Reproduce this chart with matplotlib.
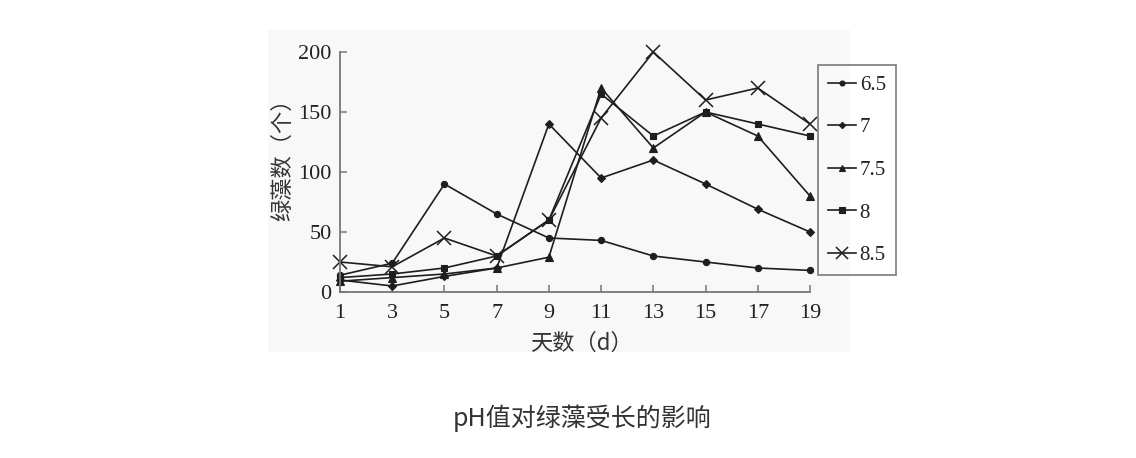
import matplotlib.pyplot as plt
from matplotlib.patches import Rectangle

plt.rcParams['font.family'] = ['Liberation Serif', 'Noto Sans CJK SC']

days = [1, 3, 5, 7, 9, 11, 13, 15, 17, 19]
ph_labels = ["6.5", "7", "7.5", "8", "8.5"]
ph_65 = [14, 24, 90, 65, 45, 43, 30, 25, 20, 18]
ph_7 = [10, 5, 13, 20, 140, 95, 110, 90, 69, 50]
ph_75 = [9, 12, 15, 20, 29, 170, 120, 150, 130, 80]
ph_8 = [12, 15, 20, 30, 60, 165, 130, 150, 140, 130]
ph_85 = [25, 21, 45, 30, 60, 145, 200, 160, 170, 140]
series = [ph_65, ph_7, ph_75, ph_8, ph_85]
markers = ['o', 'D', '^', 's', 'x']
msizes = [4.5, 4, 5.5, 5, 10]

W, H = 1136, 458
fig = plt.figure(figsize=(W / 100, H / 100), dpi=100)
fig.patches.append(Rectangle((268 / W, 1 - 352 / H), (850 - 268) / W, (352 - 30) / H,
                             transform=fig.transFigure, facecolor='#f8f8f8',
                             edgecolor='none', zorder=-10))

ax = fig.add_axes([340 / W, 1 - 292 / H, (810 - 340) / W, (292 - 52) / H])
ax.set_facecolor('none')

ink = '#1e1e1e'
for vals, lab, mk, ms in zip(series, ph_labels, markers, msizes):
    ax.plot(days, vals, color=ink, lw=1.2, marker=mk, markersize=ms,
            markeredgewidth=1.1 if mk == 'x' else 0.8, label=lab, clip_on=False)

ax.set_xlim(1, 19)
ax.set_ylim(0, 200)
ax.set_xticks(days)
ax.set_yticks([0, 50, 100, 150, 200])
for s in ['top', 'right']:
    ax.spines[s].set_visible(False)
for s in ['left', 'bottom']:
    ax.spines[s].set_color('#777777')
    ax.spines[s].set_linewidth(1.3)
ax.tick_params(direction='in', length=5, width=1.1, color='#777777',
               labelsize=16, labelcolor='#222222')
ax.tick_params(axis='x', pad=9)
ax.tick_params(axis='y', pad=6)

ax.set_ylabel("绿藻数（个）", family=['Noto Sans CJK SC'], fontsize=16,
              color='#333333')
ax.yaxis.set_label_coords(-0.097, 0.575)
ax.set_xlabel("天数（d）", family=['Noto Sans CJK SC', 'Liberation Serif'], fontsize=16,
              color='#333333')
ax.xaxis.set_label_coords(0.513, -0.165)

leg = ax.legend(loc='upper left', bbox_to_anchor=(818 / W, 1 - 65 / H),
                bbox_transform=fig.transFigure, fontsize=15, frameon=True,
                fancybox=False, edgecolor='#666666', facecolor='none',
                labelspacing=1.1, handlelength=1.3, handletextpad=0.2,
                borderpad=0.5, borderaxespad=0, markerscale=0.8)
leg.get_frame().set_linewidth(1.3)
for t in leg.get_texts():
    t.set_color('#222222')

fig.text(582 / W, 1 - 418 / H, "pH值对绿藻受长的影响", family=['Noto Sans CJK SC'],
         fontsize=18, color='#333333', ha='center', va='center')

fig.savefig('out.png', dpi=100, facecolor='white')
